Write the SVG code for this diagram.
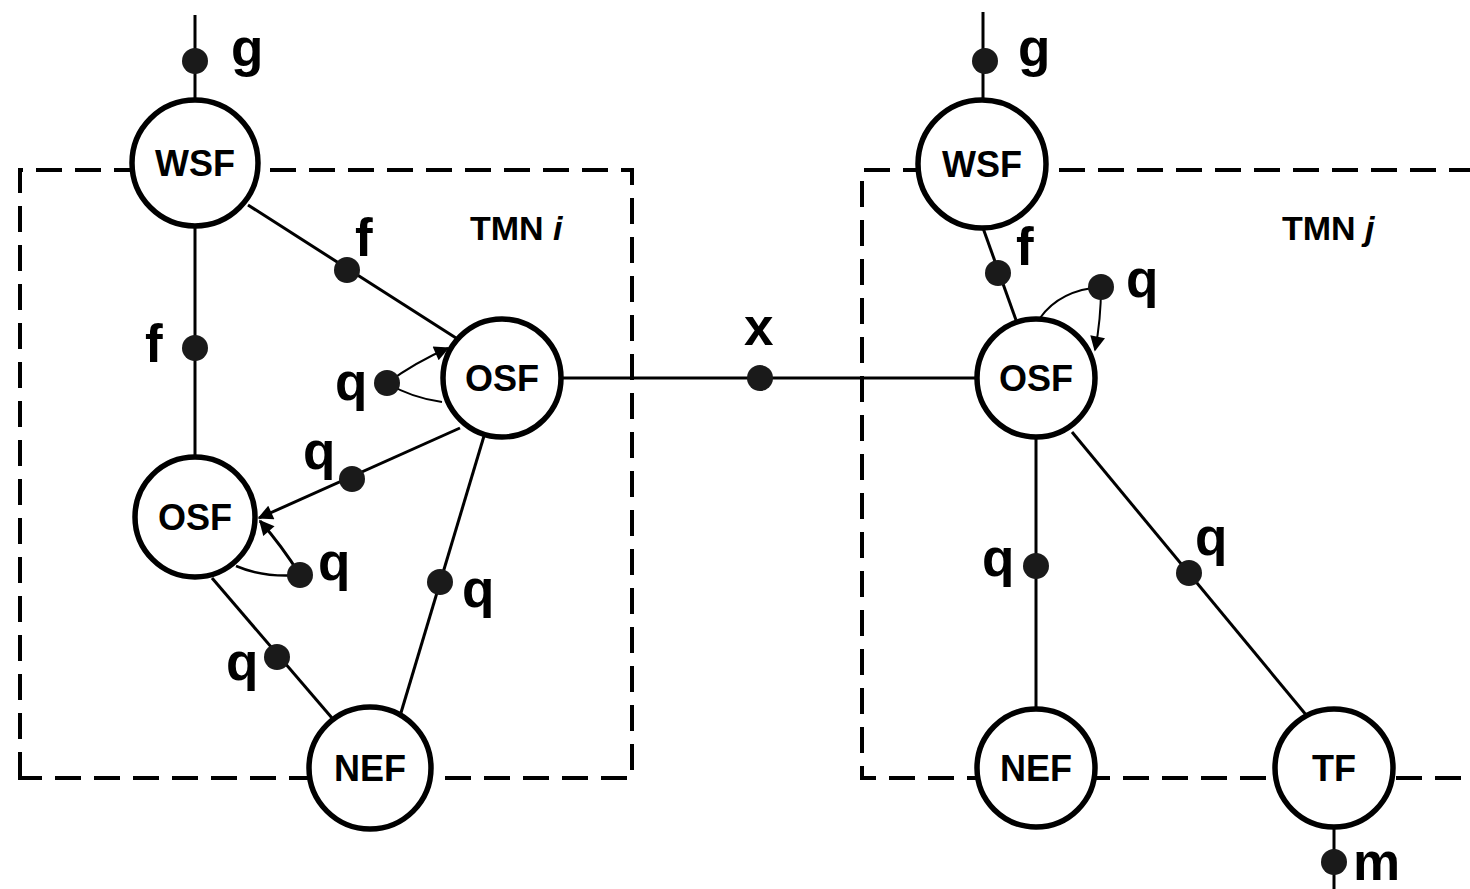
<svg xmlns="http://www.w3.org/2000/svg" width="1470" height="889" viewBox="0 0 1470 889">
<style>
.box{fill:none;stroke:#000;stroke-width:4;stroke-dasharray:26 13}
.ln{fill:none;stroke:#000;stroke-width:3}
.thin{fill:none;stroke:#000;stroke-width:2}
.dot{fill:#1a1a1a}
.nd{fill:#fff;stroke:#000;stroke-width:5.5}
.nt{font-family:"Liberation Sans",Arial,sans-serif;font-weight:bold;font-size:36px;text-anchor:middle;fill:#000}
.lb{font-family:"Liberation Sans",Arial,sans-serif;font-weight:bold;font-size:53px;fill:#000}
.tm{font-family:"Liberation Sans",Arial,sans-serif;font-weight:bold;font-size:34px;fill:#000}
</style>
<defs>
<marker id="ah" viewBox="0 0 10 10" refX="9" refY="5" markerWidth="20" markerHeight="15" markerUnits="userSpaceOnUse" orient="auto">
<path d="M0,0 L10,5 L0,10 z" fill="#000"/>
</marker>
</defs>
<rect width="1470" height="889" fill="#fff"/>
<g id="boxes">
<path class="box" d="M20,778 L20,170 L632,170 L632,778 Z"/>
<path class="box" d="M1475,170 L862,170 L862,778 L1475,778"/>
<text class="tm" x="470" y="240">TMN <tspan font-style="italic">i</tspan></text>
<text class="tm" x="1282" y="240">TMN <tspan font-style="italic">j</tspan></text>
</g>
<g id="connectors">
<line class="ln" x1="195" y1="15" x2="195" y2="100"/>
<circle class="dot" cx="195" cy="61" r="13"/>
<text class="lb" x="231" y="66">g</text>
<line class="ln" x1="195" y1="225" x2="195" y2="460"/>
<circle class="dot" cx="195" cy="348" r="13"/>
<text class="lb" x="145" y="362">f</text>
<line class="ln" x1="248" y1="205" x2="456" y2="338"/>
<circle class="dot" cx="347" cy="270" r="13"/>
<text class="lb" x="355" y="256">f</text>
<path class="thin" d="M387,383 Q416,362 448,348" marker-end="url(#ah)"/>
<path class="thin" d="M387,383 Q412,398 442,402"/>
<circle class="dot" cx="387" cy="383" r="13"/>
<text class="lb" x="335" y="400">q</text>
<line class="ln" x1="460" y1="428" x2="259" y2="518" marker-end="url(#ah)"/>
<circle class="dot" cx="352" cy="479" r="13"/>
<text class="lb" x="303" y="469">q</text>
<path class="thin" d="M300,575 Q282,546 260,521" marker-end="url(#ah)" style="stroke-width:3"/>
<path class="thin" d="M300,575 Q264,578 236,566" style="stroke-width:2.5"/>
<circle class="dot" cx="300" cy="575" r="13"/>
<text class="lb" x="318" y="580">q</text>
<line class="ln" x1="212" y1="578" x2="332" y2="718"/>
<circle class="dot" cx="277" cy="657" r="13"/>
<text class="lb" x="226" y="680">q</text>
<line class="ln" x1="484" y1="436" x2="400" y2="716"/>
<circle class="dot" cx="440" cy="582" r="13"/>
<text class="lb" x="462" y="607">q</text>
<line class="ln" x1="562" y1="378" x2="976" y2="378"/>
<circle class="dot" cx="760" cy="378" r="13"/>
<text class="lb" x="744" y="345">x</text>
<line class="ln" x1="983" y1="12" x2="983" y2="100"/>
<circle class="dot" cx="985" cy="61" r="13"/>
<text class="lb" x="1018" y="66">g</text>
<line class="ln" x1="983" y1="228" x2="1016" y2="320"/>
<circle class="dot" cx="998" cy="273" r="13"/>
<text class="lb" x="1016" y="265">f</text>
<path class="thin" d="M1101,287 Q1060,290 1040,318"/>
<path class="thin" d="M1101,287 Q1101,320 1095,350" marker-end="url(#ah)"/>
<circle class="dot" cx="1101" cy="287" r="13"/>
<text class="lb" x="1126" y="297">q</text>
<line class="ln" x1="1036" y1="436" x2="1036" y2="708"/>
<circle class="dot" cx="1036" cy="566" r="13"/>
<text class="lb" x="982" y="576">q</text>
<line class="ln" x1="1072" y1="432" x2="1307" y2="716"/>
<circle class="dot" cx="1189" cy="573" r="13"/>
<text class="lb" x="1195" y="555">q</text>
<line class="ln" x1="1334" y1="828" x2="1334" y2="889"/>
<circle class="dot" cx="1334" cy="862" r="13"/>
<text class="lb" x="1353" y="880">m</text>
</g>
<g id="wsf-i"><circle class="nd" cx="195" cy="163" r="63"/><text class="nt" x="195" y="176">WSF</text></g>
<g id="osf-i-upper"><circle class="nd" cx="502" cy="378" r="59"/><text class="nt" x="502" y="391">OSF</text></g>
<g id="osf-i-lower"><circle class="nd" cx="195" cy="517" r="60"/><text class="nt" x="195" y="530">OSF</text></g>
<g id="nef-i"><circle class="nd" cx="370" cy="768" r="61"/><text class="nt" x="370" y="781">NEF</text></g>
<g id="wsf-j"><circle class="nd" cx="982" cy="164" r="64"/><text class="nt" x="982" y="177">WSF</text></g>
<g id="osf-j"><circle class="nd" cx="1036" cy="378" r="59"/><text class="nt" x="1036" y="391">OSF</text></g>
<g id="nef-j"><circle class="nd" cx="1036" cy="768" r="59"/><text class="nt" x="1036" y="781">NEF</text></g>
<g id="tf-j"><circle class="nd" cx="1334" cy="768" r="59"/><text class="nt" x="1334" y="781">TF</text></g>
</svg>
